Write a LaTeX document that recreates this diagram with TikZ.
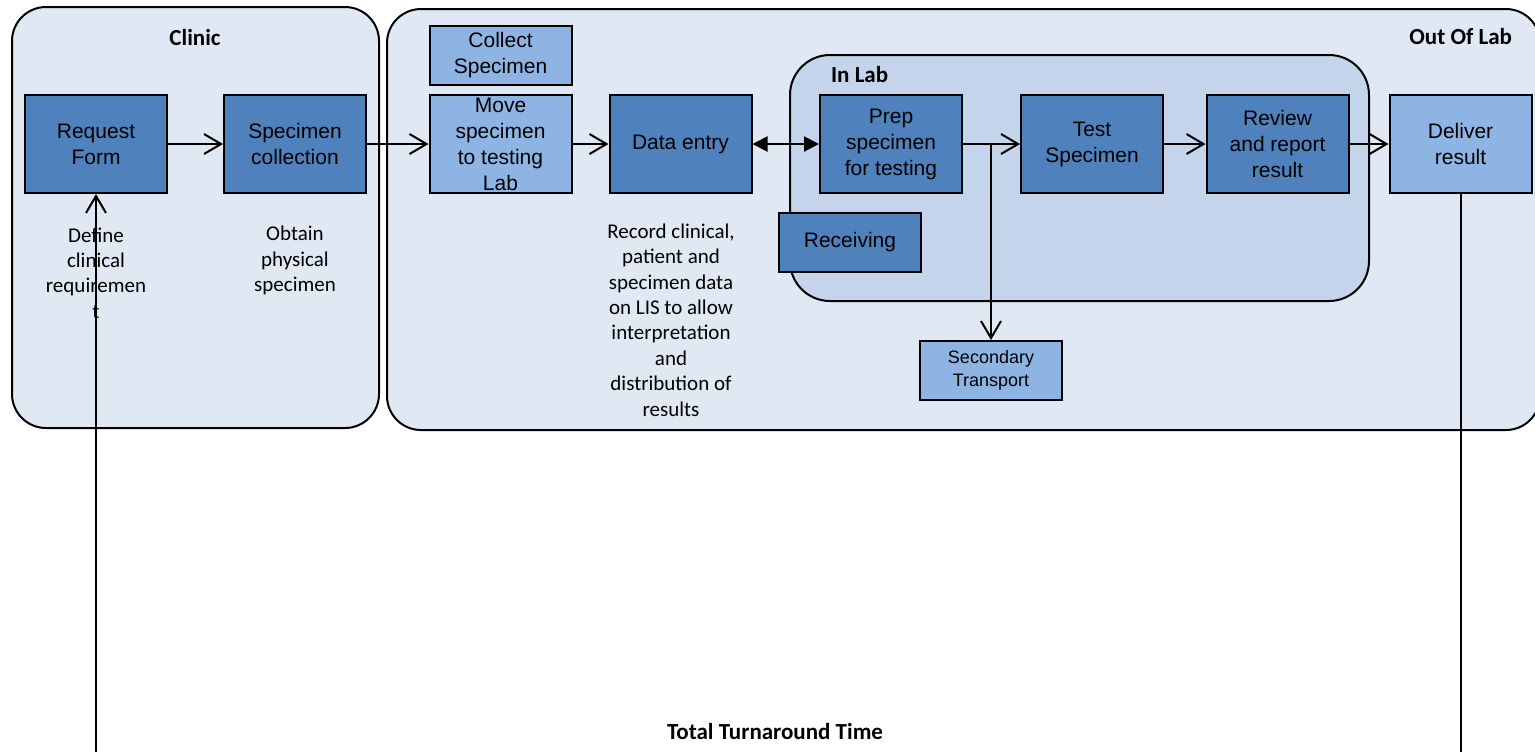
\documentclass[tikz,border=0pt]{standalone}
\usepackage{fontspec}
\setmainfont{Liberation Sans}
\newfontfamily\notefont{Carlito}
\usetikzlibrary{arrows.meta}
\definecolor{darkblue}{HTML}{4F81BD}
\definecolor{lightblue}{HTML}{8EB4E3}
\definecolor{contfill}{HTML}{DFE8F3}
\definecolor{labfill}{HTML}{C4D5EB}
\begin{document}
\begin{tikzpicture}[x=0.5pt,y=-0.5pt,
  box/.style={draw=black, line width=1pt, minimum width=71pt, minimum height=49pt,
    inner sep=0pt, align=center, font=\fontsize{10.5}{13}\selectfont},
  dbox/.style={box, fill=darkblue},
  lbox/.style={box, fill=lightblue},
  smallbox/.style={minimum height=29.5pt},
  cont/.style={draw=black, line width=1pt, rounded corners=17pt},
  arr/.style={-{Straight Barb[length=8.5pt,width=10pt,line width=1pt]}, line width=1pt},
  darr/.style={{Triangle[length=7.5pt,width=7.5pt]}-{Triangle[length=7.5pt,width=7.5pt]}, line width=1pt},
  plain/.style={line width=1pt},
  note/.style={align=center, font=\notefont\fontsize{10.5}{12.7}\selectfont},
  head/.style={font=\notefont\bfseries\fontsize{11.5}{14}\selectfont}]
\useasboundingbox (0,0) rectangle (1535,752);
\begin{scope}
\clip (0,0) rectangle (1535,752);
\draw[cont, fill=contfill] (12,7) rectangle (379,428);
\draw[cont, fill=contfill] (387,9) rectangle (1540,430);
\draw[cont, fill=labfill, rounded corners=20pt] (790,55) rectangle (1369,301);
\end{scope}

\node[head] (tclinic) at (195,38) {Clinic};
\node[head, anchor=east] (tout) at (1519,37) {Out Of Lab};
\node[head, anchor=west] (tin) at (824,75) {In Lab};
\node[head] (ttat) at (775,731) {Total Turnaround Time};

\node[dbox] (req) at (96,144) {Request\\Form};
\node[dbox] (spc) at (295,144) {Specimen\\collection};
\node[lbox, smallbox] (col) at (500.5,55) {Collect\\Specimen};
\node[lbox] (mov) at (500.5,144) {Move\\specimen\\to testing\\Lab};
\node[dbox] (dat) at (680.5,144) {Data entry};
\node[dbox] (prp) at (891,144) {Prep\\specimen\\for testing};
\node[dbox] (tst) at (1092,144) {Test\\Specimen};
\node[dbox] (rev) at (1277.5,144) {Review\\and report\\result};
\node[lbox] (del) at (1460.5,144) {Deliver\\result};
\node[dbox, smallbox] (rcv) at (850,242.5) {Receiving};
\node[lbox, smallbox, font=\fontsize{9}{11.5}\selectfont] (sec) at (991,370.5) {Secondary\\Transport};

\node[note] (n1) at (96,273) {Define\\clinical\\requiremen\\t};
\node[note] (n2) at (295,260.5) {Obtain\\physical\\specimen};
\node[note] (n3) at (671,320) {Record clinical,\\patient and\\specimen data\\on LIS to allow\\interpretation\\and\\distribution of\\results};

\draw[arr] (req) -- (spc);
\draw[arr] (spc) -- (mov);
\draw[arr] (mov) -- (dat);
\draw[darr] (dat) -- (prp);
\draw[arr] (prp) -- (tst);
\coordinate (br) at (991,144);
\draw[arr] (br) -- (sec);
\draw[arr] (tst) -- (rev);
\draw[arr] (rev) -- (del);
\coordinate (lb) at (96,752);
\draw[arr] (lb) -- (req);
\coordinate (rb) at (1460.5,752);
\draw[plain] (del) -- (rb);
\end{tikzpicture}
\end{document}
